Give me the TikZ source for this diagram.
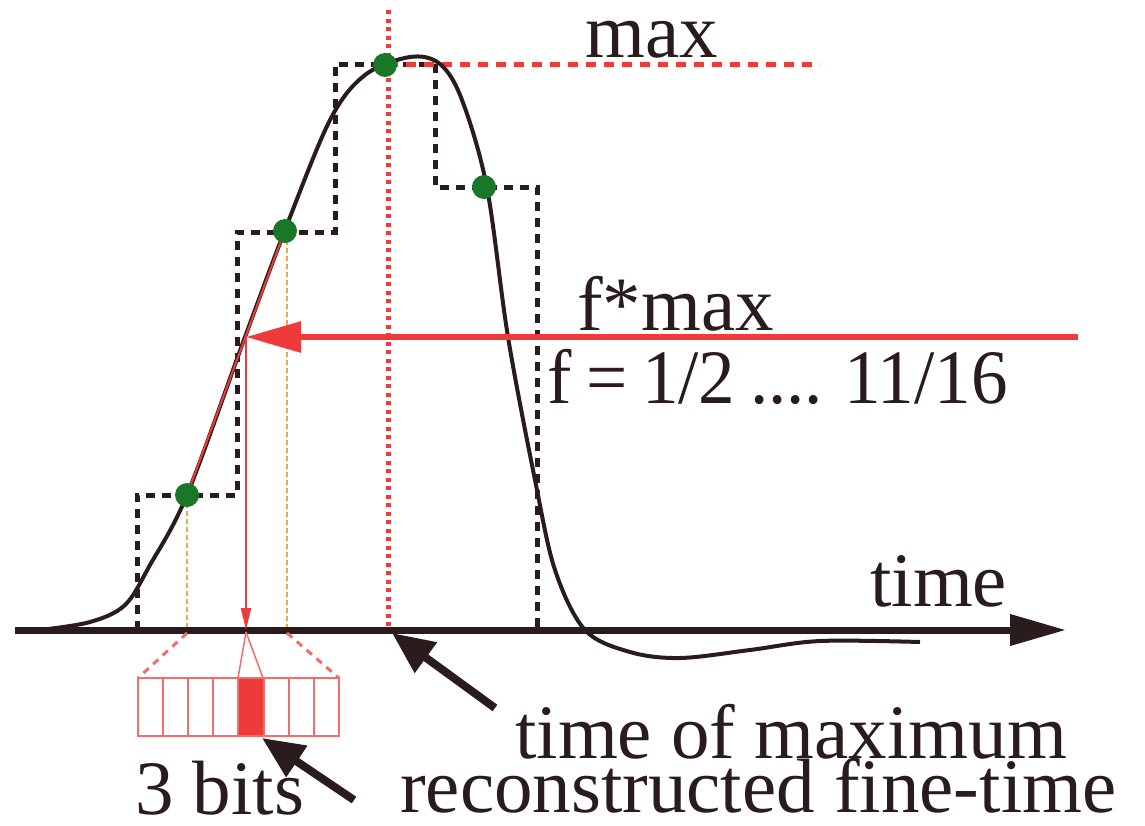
\documentclass[tikz,border=0pt]{standalone}
\usepackage{fontspec}
\setmainfont{Liberation Serif}
\usetikzlibrary{arrows.meta}
\definecolor{ink}{RGB}{42,28,28}
\definecolor{myred}{RGB}{238,58,58}
\definecolor{lightred}{RGB}{242,110,110}
\definecolor{myorange}{RGB}{238,165,70}
\definecolor{mygreen}{RGB}{24,120,40}
\tikzset{
  lbl/.style={anchor=base west, inner sep=0pt, text=ink, font=\fontsize{77}{90}\selectfont, text height=0.68em, text depth=0.02em},
  stepline/.style={ink, line width=5pt, dash pattern=on 9pt off 7pt},
  sampledot/.style={circle, fill=mygreen, minimum size=24pt, inner sep=0pt},
  guide/.style={myorange, line width=2.5pt, dash pattern=on 5pt off 3pt},
  bigarrow/.style={ink, line width=8pt, -{Triangle[length=42pt,width=36pt]}},
  cell/.style={lightred, line width=2pt},
}
\begin{document}
\begin{tikzpicture}[x=1pt,y=-1pt]
\useasboundingbox (0,0) rectangle (1145,825);
% coordinates
\coordinate (axL) at (15,630);
\coordinate (axR) at (1066,630);
\coordinate (pmax) at (388,64);
\coordinate (tmax) at (388,630);
\coordinate (cross) at (246,337);
\coordinate (crossAx) at (246,630);
\coordinate (fstart) at (1078,337);

% dashed step function
\draw[stepline] (137,630) -- (137,495) -- (237,495) -- (237,232) -- (335,232) -- (335,64) -- (435,64) -- (435,187) -- (537,187) -- (537,630);

% red dotted vertical and dashed horizontal
\draw[myred, line width=5pt, dash pattern=on 4pt off 4.5pt] (388,10) -- (tmax);
\draw[myred, line width=5pt, dash pattern=on 10pt off 8pt] (pmax) -- (820,64);

% orange guides
\draw[guide] (187,495) -- (187,630);
\draw[guide] (287,232) -- (287,630);

% pulse curve
\draw[ink, line width=4pt] plot[smooth, tension=0.55] coordinates {
 (40,630) (90,622) (125,605) (150,565) (187,495) (245,337) (285,230)
 (330,120) (365,75) (410,57) (440,64) (462,100) (487,188) (508,337)
 (535,480) (555,570) (585,630) (630,652) (680,658) (750,650) (820,641) (920,642)};
% linear interpolation overlay
\draw[myred, line width=2pt] (187,495) -- (285,230);

% time axis
\draw[ink, line width=7pt, -{Triangle[length=56pt,width=30pt]}] (axL) -- (axR);

% threshold arrow
\draw[myred, line width=6pt, -{Triangle[length=55pt,width=30pt]}] (fstart) -- (cross);
% projection down to axis
\draw[myred, line width=2pt, -{Triangle[length=22pt,width=10pt]}] (cross) -- (crossAx);

% sample dots
\node[sampledot] (s1) at (187,495) {};
\node[sampledot] (s2) at (285,231) {};
\node[sampledot] (s3) at (385,65) {};
\node[sampledot] (s4) at (484,187) {};

% bit register
\fill[myred] (238,678) rectangle (263,736);
\foreach \i in {0,...,7} {
  \draw[cell] ({138+\i*25.1},678) rectangle ({138+(\i+1)*25.1},736);
}
\draw[lightred, line width=3pt, dash pattern=on 7pt off 6pt] (187,633) -- (138,678);
\draw[lightred, line width=3pt, dash pattern=on 7pt off 6pt] (287,633) -- (339,678);
\draw[lightred, line width=1.5pt] (246,632) -- (238,678);
\draw[lightred, line width=1.5pt] (246,632) -- (263,678);

% labels
\node[lbl] (lmax) at (585,57) {max};
\node[lbl] (lfmax) at (577,330) {f*max};
\node[lbl, xscale=0.95] (lf) at (547,403) {\spaceskip=0.2em f = 1/2 .... 11/16};
\node[lbl] (ltime) at (870,606) {time};
\node[lbl] (ltmax) at (515,758) {time of maximum};
\node[lbl] (lrec) at (400,812) {reconstructed fine-time};
\node[lbl] (lbits) at (135,814) {3 bits};

% pointer arrows
\coordinate (a1s) at (495,708);
\coordinate (a1e) at (392,633);
\coordinate (a2s) at (354,800);
\coordinate (a2e) at (262,738);
\draw[bigarrow] (a1s) -- (a1e);
\draw[bigarrow] (a2s) -- (a2e);
\end{tikzpicture}
\end{document}
